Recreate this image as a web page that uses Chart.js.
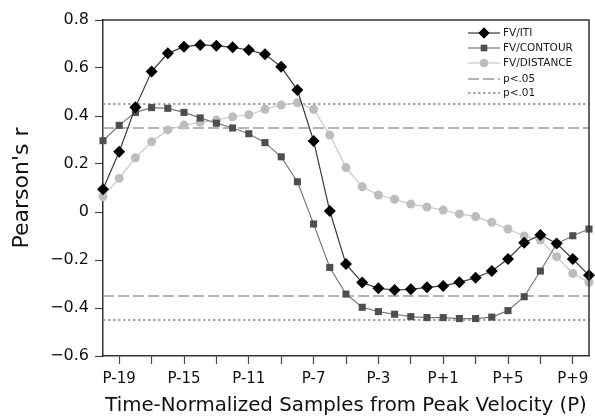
<!DOCTYPE html>
<html>
<head>
<meta charset="utf-8">
<script src="https://cdn.jsdelivr.net/npm/chart.js@4.4.1/dist/chart.umd.min.js"></script>
<style>
  html, body { margin: 0; padding: 0; background: #fff; }
  canvas { display: block; }
</style>
</head>
<body>
<canvas id="chart" width="595" height="418"></canvas>
<script>
// samples relative to peak velocity (P-20 .. P+10)
const samples = [-20, -19, -18, -17, -16, -15, -14, -13, -12, -11, -10, -9, -8, -7, -6, -5, -4, -3, -2, -1, 0, 1, 2, 3, 4, 5, 6, 7, 8, 9, 10];

const fvIti = [0.095, 0.251, 0.436, 0.585, 0.661, 0.689, 0.696, 0.693, 0.686, 0.675, 0.657, 0.605, 0.508,
  0.296, 0.004, -0.217, -0.294, -0.318, -0.325, -0.322, -0.314, -0.308, -0.293, -0.274, -0.246, -0.196,
  -0.128, -0.096, -0.131, -0.196, -0.264];
const fvContour = [0.297, 0.361, 0.415, 0.435, 0.432, 0.415, 0.392, 0.370, 0.350, 0.326, 0.289, 0.230, 0.126,
  -0.050, -0.231, -0.342, -0.397, -0.415, -0.426, -0.436, -0.440, -0.440, -0.444, -0.444, -0.438, -0.411,
  -0.353, -0.246, -0.133, -0.099, -0.071];
const fvDistance = [0.064, 0.140, 0.226, 0.293, 0.342, 0.362, 0.374, 0.383, 0.397, 0.405, 0.428, 0.446, 0.455,
  0.428, 0.321, 0.185, 0.105, 0.071, 0.053, 0.033, 0.021, 0.008, -0.008, -0.019, -0.043, -0.071,
  -0.100, -0.117, -0.186, -0.256, -0.293];

// significance thresholds
const p05 = 0.35;
const p01 = 0.45;

const xTicks = [-19, -17, -15, -13, -11, -9, -7, -5, -3, -1, 1, 3, 5, 7, 9];
const xLabelTicks = [-19, -15, -11, -7, -3, 1, 5, 9];
const yTicks = [-0.6, -0.4, -0.2, 0, 0.2, 0.4, 0.6, 0.8];

const FONT = "'DejaVu Sans', sans-serif";

const toPoints = vals => samples.map((s, i) => ({ x: s, y: vals[i] }));
const flat = v => [{ x: samples[0], y: v }, { x: samples[samples.length - 1], y: v }];
const fmtP = v => v < 0 ? 'P-' + Math.abs(v) : 'P+' + v;
const fmtR = v => Math.abs(v) < 1e-9 ? '0' : v.toFixed(1).replace('-', '\u2212');

function refLine(v, dash, color) {
  return {
    data: flat(v), borderColor: color, borderWidth: 1.5, borderDash: dash,
    pointRadius: 0, fill: false, order: 10, clip: false
  };
}

const datasets = [
  { label: 'FV/ITI', data: toPoints(fvIti), borderColor: '#3a3a3a', borderWidth: 1.2,
    pointStyle: 'rectRot', pointRadius: 6, pointBackgroundColor: '#000', pointBorderColor: '#000',
    pointBorderWidth: 0, clip: false, order: 1 },
  { label: 'FV/CONTOUR', data: toPoints(fvContour), borderColor: '#7a7a7a', borderWidth: 1.2,
    pointStyle: 'rect', pointRadius: 5, pointBackgroundColor: '#4e4e4e', pointBorderColor: '#4e4e4e',
    pointBorderWidth: 0, clip: false, order: 2 },
  { label: 'FV/DISTANCE', data: toPoints(fvDistance), borderColor: '#c8c8c8', borderWidth: 1.2,
    pointStyle: 'circle', pointRadius: 4.5, pointBackgroundColor: '#bdbdbd', pointBorderColor: '#bdbdbd',
    pointBorderWidth: 0, clip: false, order: 3 },
  Object.assign(refLine(p05, [11, 4], '#9a9a9a'), { label: 'p<.05' }),
  Object.assign(refLine(-p05, [11, 4], '#9a9a9a'), { label: 'p<.05 low' }),
  Object.assign(refLine(p01, [2.5, 2.5], '#8a8a8a'), { label: 'p<.01' }),
  Object.assign(refLine(-p01, [2.5, 2.5], '#8a8a8a'), { label: 'p<.01 low' })
];

// legend drawn in the upper right corner, using the dataset styles
const legendItems = [0, 1, 2, 3, 5];
const legendPlugin = {
  id: 'cornerLegend',
  afterDraw(chart) {
    const ctx = chart.ctx;
    const x0 = 468, x1 = 500, tx = 503;
    const rows = [33, 48, 63, 79, 93];
    ctx.save();
    ctx.font = '10.5px ' + FONT;
    ctx.textBaseline = 'middle';
    ctx.textAlign = 'left';
    legendItems.forEach((di, k) => {
      const ds = chart.data.datasets[di];
      const y = rows[k];
      ctx.strokeStyle = ds.borderColor;
      ctx.lineWidth = ds.borderWidth;
      ctx.setLineDash(ds.borderDash || []);
      ctx.beginPath();
      ctx.moveTo(x0, y);
      ctx.lineTo(x1, y);
      ctx.stroke();
      ctx.setLineDash([]);
      if (ds.pointRadius) {
        ctx.fillStyle = ds.pointBackgroundColor;
        Chart.helpers.drawPoint(ctx, { pointStyle: ds.pointStyle, radius: ds.pointRadius * 0.9, borderWidth: 0 },
          (x0 + x1) / 2, y);
        ctx.fill();
      }
      ctx.fillStyle = '#1a1a1a';
      ctx.fillText(ds.label, tx, y);
    });
    ctx.restore();
  }
};

// box around the plotting area (top and right edges)
const boxPlugin = {
  id: 'box',
  afterDatasetsDraw(chart) {
    const { left, right, top, bottom } = chart.chartArea;
    const ctx = chart.ctx;
    ctx.save();
    ctx.strokeStyle = '#333';
    ctx.lineWidth = 1.5;
    ctx.beginPath();
    ctx.moveTo(left, top);
    ctx.lineTo(right, top);
    ctx.lineTo(right, bottom);
    ctx.stroke();
    ctx.restore();
  }
};

const whiteBg = {
  id: 'whiteBg',
  beforeDraw(chart) {
    const ctx = chart.ctx;
    ctx.save();
    ctx.fillStyle = '#fff';
    ctx.fillRect(0, 0, chart.width, chart.height);
    ctx.restore();
  }
};

new Chart(document.getElementById('chart'), {
  type: 'line',
  data: { datasets },
  plugins: [whiteBg, boxPlugin, legendPlugin],
  options: {
    responsive: false,
    animation: false,
    layout: { padding: { top: 20, right: 5, left: 0, bottom: 0 } },
    elements: { line: { tension: 0 } },
    plugins: { legend: { display: false }, tooltip: { enabled: false } },
    scales: {
      x: {
        type: 'linear',
        min: -20, max: 10,
        afterBuildTicks: s => { s.ticks = xTicks.map(v => ({ value: v })); },
        afterFit: s => { s.height = 62; },
        border: { display: true, color: '#333', width: 1.5 },
        grid: { drawOnChartArea: false, drawTicks: true, tickLength: 8, tickColor: '#444', tickWidth: 1.2 },
        ticks: {
          autoSkip: false, maxRotation: 0, padding: 6, color: '#111',
          font: { family: FONT, size: 15 },
          callback: v => xLabelTicks.includes(v) ? fmtP(v) : ''
        },
        title: {
          display: true, text: 'Time-Normalized Samples from Peak Velocity (P)', color: '#111',
          font: { family: FONT, size: 19.8 }, padding: { top: 0, bottom: 0 }
        }
      },
      y: {
        min: -0.6, max: 0.8,
        afterBuildTicks: s => { s.ticks = yTicks.map(v => ({ value: v })); },
        afterFit: s => { s.width = 103; },
        border: { display: true, color: '#333', width: 1.5 },
        grid: { drawOnChartArea: false, drawTicks: true, tickLength: 8, tickColor: '#444', tickWidth: 1.2 },
        ticks: {
          padding: 6, color: '#111',
          font: { family: FONT, size: 16 },
          callback: v => fmtR(v)
        },
        title: {
          display: true, text: "Pearson's r", color: '#111',
          font: { family: FONT, size: 22 }, padding: { top: 9, bottom: 6 }
        }
      }
    }
  }
});
</script>
</body>
</html>
